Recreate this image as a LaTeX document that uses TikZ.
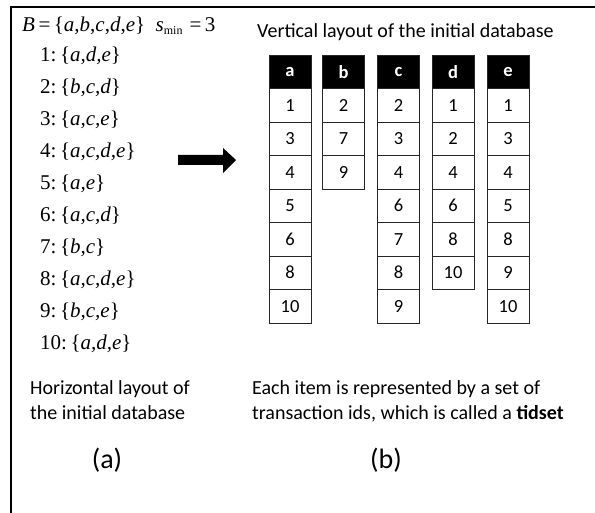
\documentclass[tikz,border=0pt]{standalone}
\usepackage{fontspec}
\setmainfont{Liberation Serif}
\newfontfamily\calfont{Carlito}
\begin{document}
\begin{tikzpicture}[x=1pt,y=-1pt,
  itemtxt/.style={anchor=west,inner sep=0pt,font=\fontsize{21}{21}\selectfont},
  captxt/.style={inner sep=0pt,font=\calfont\fontsize{20}{25}\selectfont},
  cell/.style={draw=black!85,line width=0.9pt,minimum width=42pt,minimum height=33.5pt,inner sep=0pt,
    font=\calfont\fontsize{18.5}{18.5}\selectfont},
  headcell/.style={cell,fill=black,text=white,font=\calfont\bfseries\fontsize{18.5}{18.5}\selectfont}]
\useasboundingbox (0,0) rectangle (595,513);
\fill[white] (0,0) rectangle (595,513);
% frame
\draw[line width=2pt] (11,513) -- (11,7) -- (595,7);
% horizontal layout
\node[itemtxt] (B) at (22,26) {\textit{B}\,=\,\{\textit{a},\textit{b},\textit{c},\textit{d},\textit{e}\}\enspace\textit{s}\raisebox{-3pt}{\fontsize{12}{12}\selectfont min}\,\,=\,3};
\foreach \n/\s [count=\i] in {1/{a,d,e},2/{b,c,d},3/{a,c,e},4/{a,c,d,e},5/{a,e},6/{a,c,d},7/{b,c},8/{a,c,d,e},9/{b,c,e},10/{a,d,e}}{
  \node[itemtxt] (t\i) at (40,{56+32*(\i-1)}) {\n:\,\{\textit{\s}\}};
}
\node[captxt,anchor=north west,align=left] (capa) at (30,380) {Horizontal layout of\\the initial database};
\node[captxt,anchor=north west,align=left] (capb) at (252,380) {Each item is represented by a set of\\transaction ids, which is called a \textbf{tidset}};
\node[captxt,anchor=west] (vt) at (257,32) {Vertical layout of the initial database};
\node[captxt,font=\calfont\fontsize{28}{28}\selectfont] (la) at (107,460) {(a)};
\node[captxt,font=\calfont\fontsize{28}{28}\selectfont] (lb) at (386,460) {(b)};
% arrow
\fill (178,155) -- (223,155) -- (223,148) -- (236,160) -- (223,173) -- (223,165) -- (178,165) -- cycle;
% vertical layout
\foreach \h/\xc/\vals in {a/290/{1,3,4,5,6,8,10},b/343.5/{2,7,9},c/398.5/{2,3,4,6,7,8,9},d/453/{1,2,4,6,8,10},e/508/{1,3,4,5,8,9,10}}{
  \node[headcell] (\h0) at (\xc,71.75) {\h};
  \foreach \v [count=\j] in \vals {
    \node[cell] (\h\j) at (\xc,{71.75+33.5*\j}) {\v};
  }
}
\end{tikzpicture}
\end{document}
